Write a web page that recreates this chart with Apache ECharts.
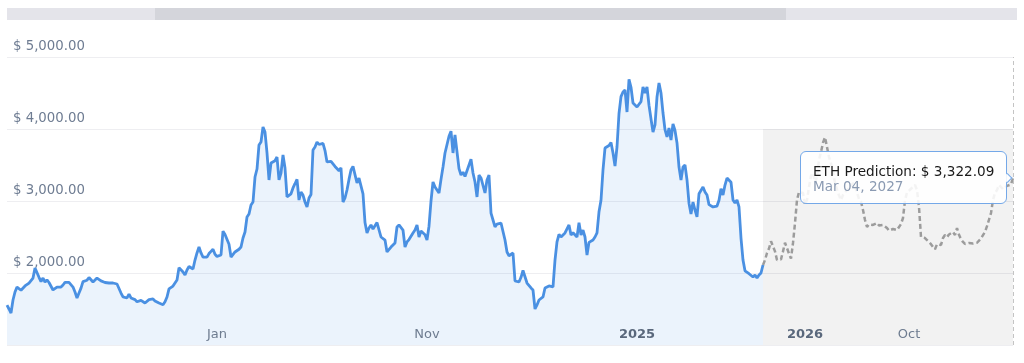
<!DOCTYPE html>
<html><head><meta charset="utf-8">
<script src="https://cdn.jsdelivr.net/npm/echarts@6/dist/echarts.min.js"></script>
<style>html,body{margin:0;padding:0;background:#fff}#c{width:1024px;height:363px}</style>
</head><body><div id="c"></div>
<script>
// Historical ETH price (USD), evenly spaced samples
const historyValues = [
1555,1500,1444,1625,1736,1805,1795,1760,1770,1820,
1847,1861,1861,1930,2070,2083,1940,1880,1930,1875,
1903,1868,1850,1764,1790,1805,1805,1805,1833,1870,
1885,1870,1861,1805,1736,1653,1722,1790,1880,1900,
1900,1937,1910,1875,1875,1930,1910,1890,1875,1868,
1861,1861,1861,1861,1855,1847,1833,1722,1667,1660,
1653,1708,1653,1639,1630,1600,1597,1620,1639,1583,
1583,1630,1650,1639,1611,1611,1583,1565,1560,1600,
1667,1780,1792,1819,1833,1903,2075,2050,2014,1972,
2042,2090,2069,2055,2180,2278,2361,2278,2222,2215,
2220,2270,2300,2330,2260,2230,2250,2250,2580,2535,
2515,2400,2222,2222,2292,2310,2330,2361,2486,2569,
2778,2819,2944,2986,3333,3444,3778,3820,4028,3958,
3667,3292,3528,3542,3560,3611,3292,3389,3639,3458,
3056,3056,3100,3181,3240,3300,3014,3125,3083,2986,
2917,3042,3090,3708,3750,3819,3785,3800,3800,3700,
3542,3569,3550,3535,3480,3472,3420,3460,2986,3042,
3153,3300,3430,3480,3470,3250,3319,3333,3100,2700,
2556,2625,2667,2611,2630,2700,2708,2500,2486,2458,
2292,2319,2360,2361,2417,2639,2667,2660,2597,2361,
2431,2465,2490,2556,2597,2667,2500,2583,2556,2530,
2458,2650,3000,3264,3194,3181,3111,3300,3472,3667,
3681,3900,3970,3667,3917,3944,3450,3361,3400,3340,
3361,3500,3580,3389,3264,3056,3361,3320,3319,3111,
3292,3361,2833,2736,2640,2680,2694,2694,2720,2458,
2292,2240,2230,2278,1890,1875,1875,1940,2035,2020,
1861,1875,1792,1764,1500,1556,1625,1610,1667,1792,
1792,1820,1820,1806,2180,2431,2535,2500,2528,2556,
2556,2667,2528,2560,2569,2500,2700,2528,2597,2500,
2250,2425,2430,2458,2500,2556,2850,3010,3431,3736,
3722,3770,3812,3667,3486,3750,4215,4450,4514,4542,
4236,4690,4580,4361,4361,4306,4320,4380,4583,4500,
4583,4330,4140,3958,4056,4444,4639,4500,4222,3990,
3889,4014,3847,4070,3980,3806,3472,3292,3472,3500,
3292,2970,2820,2986,2875,2778,3100,3090,3194,3125,
3083,2950,2950,2917,2917,2930,3010,3170,3083,3222,
3319,3310,3260,3014,2972,3014,2917,2486,2180,2030,
2014,1990,1985,1944,1972,1930,1972,2000,2111
];
// Predicted ETH price (USD); first value joins the history
const predictionValues = [
2111,2180,2278,2340,2440,2440,2300,2180,2153,2190,
2300,2420,2420,2270,2200,2417,2694,3014,3125,3145,
3110,2950,3014,3194,3350,3389,3264,3333,3570,3680,
3810,3885,3750,3611,3520,3400,3250,3160,3080,3014,
3083,3120,3153,3170,3200,3250,3200,3120,3030,2990,
2875,2736,2639,2675,2690,2667,2680,2694,2660,2650,
2667,2645,2625,2590,2580,2611,2605,2597,2620,2680,
2764,3010,3118,3140,3170,3195,3222,3153,2917,2500,
2500,2486,2458,2430,2400,2361,2330,2400,2410,2389,
2486,2528,2500,2535,2560,2569,2528,2625,2530,2470,
2431,2403,2412,2417,2417,2410,2403,2420,2445,2480,
2525,2569,2650,2740,2833,3014,3111,3153,3222,3195,
3165,3175,3210,3200,3230,3322.09
];
const lastDate = '2027-03-04';
const dayStep = 3;
const tickIndex = [105, 210, 315, 399, 451];
const tickText = ['Jan', 'Nov', '2025', '2026', 'Oct'];
const boldTicks = ['2025', '2026'];
const yMin = 1000, yMax = 5000, yStep = 1000;
const predictionBandTop = 4000;

const N = historyValues.length + predictionValues.length - 1;
const MONTHS = ['Jan','Feb','Mar','Apr','May','Jun','Jul','Aug','Sep','Oct','Nov','Dec'];
const endT = Date.parse(lastDate + 'T00:00:00Z');
const categories = [];
for (let i = 0; i < N; i++) {
  const d = new Date(endT - (N - 1 - i) * dayStep * 86400000);
  categories.push(MONTHS[d.getUTCMonth()] + ' ' + String(d.getUTCDate()).padStart(2, '0') + ', ' + d.getUTCFullYear());
}
const splitAt = historyValues.length - 1;
const histData = historyValues.concat(new Array(predictionValues.length - 1).fill('-'));
const predData = new Array(splitAt).fill('-').concat(predictionValues.map((v, i) =>
  i === predictionValues.length - 1
    ? { value: v, symbol: 'circle', symbolSize: 2, symbolOffset: [5, 0], itemStyle: { color: 'rgba(0,0,0,0)' } }
    : v));

const FONT = 'DejaVu Sans';
const fmtMoney = v => '$ ' + Number(v).toLocaleString('en-US', { minimumFractionDigits: 2, maximumFractionDigits: 2 });

const chart = echarts.init(document.getElementById('c'), null, { renderer: 'canvas' });
chart.setOption({
  animation: false,
  backgroundColor: '#fff',
  textStyle: { fontFamily: FONT },
  grid: { left: 7, right: 11, top: 57, bottom: 18, containLabel: false },
  graphic: [
    { type: 'rect', z: 100, shape: { x: 7, y: 8, width: 1010, height: 12 }, style: { fill: '#e4e4ea' } },
    { type: 'rect', z: 101, shape: { x: 155, y: 8, width: 631, height: 12 }, style: { fill: '#d4d5db' } }
  ],
  tooltip: {
    trigger: 'item',
    triggerOn: 'none',
    alwaysShowContent: true,
    position: 'left',
    transitionDuration: 0,
    backgroundColor: 'rgba(255,255,255,0.88)',
    borderColor: '#74a8e8',
    borderWidth: 1,
    padding: [12, 12, 9, 12],
    extraCssText: 'border-radius:6px;box-shadow:none;',
    textStyle: { fontFamily: FONT, fontSize: 13.6, color: '#1a1a1a' },
    formatter: p => '<div style="line-height:15px;white-space:nowrap">' + p.seriesName + ': ' + fmtMoney(p.value) +
      '</div><div style="line-height:15px;color:#8a9ab2">' + p.name + '</div>'
  },
  xAxis: {
    type: 'category',
    boundaryGap: false,
    data: categories,
    z: 10,
    axisLine: { show: false },
    axisTick: { show: false },
    splitLine: { show: false },
    axisLabel: {
      inside: true,
      margin: 4,
      interval: (idx) => tickIndex.indexOf(idx) >= 0,
      color: '#6e7c90',
      fontFamily: FONT,
      fontSize: 13,
      formatter: (val, idx) => {
        const t = tickText[tickIndex.indexOf(idx)];
        if (t === undefined) return '';
        return boldTicks.indexOf(t) >= 0 ? '{b|' + t + '}' : t;
      },
      rich: { b: { fontWeight: 'bold', color: '#5a687c', fontFamily: FONT, fontSize: 13 } }
    }
  },
  yAxis: {
    type: 'value',
    min: yMin, max: yMax, interval: yStep,
    axisLine: { show: false },
    axisTick: { show: false },
    splitLine: { lineStyle: { color: '#eeeef1', width: 1 } },
    axisLabel: {
      inside: true,
      margin: 6,
      showMinLabel: false,
      verticalAlign: 'bottom',
      padding: [0, 0, 4, 0],
      color: '#6e7c92',
      fontFamily: FONT,
      fontSize: 13.3,
      formatter: v => fmtMoney(v)
    }
  },
  series: [
    {
      name: 'ETH Price',
      type: 'line',
      data: histData,
      showSymbol: false,
      symbol: 'none',
      z: 3,
      lineStyle: { color: '#4a90e2', width: 2.8 },
      areaStyle: { color: 'rgba(74,144,226,0.11)', opacity: 1 },
      silent: true
    },
    {
      name: 'ETH Prediction',
      type: 'line',
      data: predData,
      symbol: 'none',
      showSymbol: true,
      showAllSymbol: true,
      z: 2,
      lineStyle: { color: '#9c9c9c', width: 2.5, type: [5, 3] },
      markArea: {
        silent: true,
        itemStyle: { color: 'rgba(0,0,0,0.05)' },
        data: [[{ xAxis: categories[splitAt], yAxis: yMin }, { xAxis: categories[N - 1], yAxis: predictionBandTop }]]
      },
      markLine: {
        silent: true,
        symbol: 'none',
        label: { show: false },
        lineStyle: { color: '#c4c4c4', width: 1, type: [4, 3] },
        data: [{ xAxis: categories[N - 1] }]
      }
    }
  ]
});
chart.dispatchAction({ type: 'showTip', seriesIndex: 1, dataIndex: N - 1 });
</script>
</body></html>
